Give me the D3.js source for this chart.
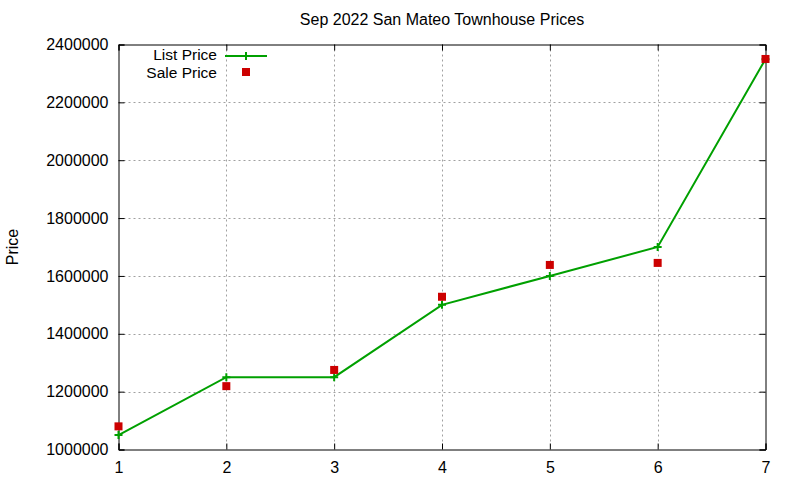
<!DOCTYPE html>
<html><head><meta charset="utf-8">
<script src="https://cdn.jsdelivr.net/npm/d3@7"></script>
<style>
body{margin:0;background:#fff;}
text{font-family:"Liberation Sans",Arial,sans-serif;}
</style></head>
<body><svg id="c" width="800" height="480"></svg>
<script>
const xValues = [1, 2, 3, 4, 5, 6, 7];
const listPrice = [1050000, 1250000, 1250000, 1500000, 1600000, 1700000, 2349000];
const salePrice = [1080000, 1219000, 1275000, 1528000, 1638000, 1645000, 2350000];
const yTicks = [1000000, 1200000, 1400000, 1600000, 1800000, 2000000, 2200000, 2400000];
const xTicks = [1, 2, 3, 4, 5, 6, 7];
const chartTitle = "Sep 2022 San Mateo Townhouse Prices";
const yLabel = "Price";
const seriesNames = ["List Price", "Sale Price"];

const svg = d3.select("#c");
const L = 118.5, R = 765.5, T = 44.5, B = 449.5;
const x = d3.scaleLinear().domain([1, 7]).range([L, R]);
const y = d3.scaleLinear().domain([1000000, 2400000]).range([B, T]);
const green = "#00a000", red = "#cc0000", grid = "#a0a0a0";
const fs = 16;

// grid
const g = svg.append("g");
g.selectAll(".gy").data(yTicks.slice(1, -1)).join("line")
  .attr("x1", L).attr("x2", R).attr("y1", d => Math.round(y(d)) + 0.5).attr("y2", d => Math.round(y(d)) + 0.5)
  .attr("stroke", grid).attr("stroke-dasharray", "2,3");
g.selectAll(".gx").data(xTicks.slice(1, -1)).join("line")
  .attr("y1", T).attr("y2", B).attr("x1", d => Math.round(x(d)) + 0.5).attr("x2", d => Math.round(x(d)) + 0.5)
  .attr("stroke", grid).attr("stroke-dasharray", "2,3");

// axes (gnuplot style: inward ticks, mirrored)
const ax = svg.append("g");
const axLeft = d3.axisLeft(y).tickValues(yTicks).tickSize(-6).tickPadding(10).tickFormat(d3.format("d"));
const axBottom = d3.axisBottom(x).tickValues(xTicks).tickSize(-6).tickPadding(12).tickFormat(d3.format("d"));
const axRight = d3.axisRight(y).tickValues(yTicks).tickSize(-6).tickFormat("");
const axTop = d3.axisTop(x).tickValues(xTicks).tickSize(-6).tickFormat("");
[[axLeft, `translate(${L},0)`], [axBottom, `translate(0,${B})`], [axRight, `translate(${R},0)`], [axTop, `translate(0,${T})`]]
  .forEach(([a, t]) => {
    const gg = ax.append("g").attr("transform", t).call(a);
    gg.select(".domain").attr("stroke", "#000");
    gg.selectAll(".tick line").attr("stroke", "#000");
    gg.selectAll("text").attr("font-size", fs).attr("fill", "#000")
      .attr("font-family", '"Liberation Sans",Arial,sans-serif');
  });

// list price line
const line = d3.line().x((d, i) => x(xValues[i])).y(d => y(d));
svg.append("path").datum(listPrice).attr("d", line)
  .attr("fill", "none").attr("stroke", green).attr("stroke-width", 2);
const plus = (sel, cx, cy) => {
  sel.append("path").attr("d", `M${cx - 4},${cy}H${cx + 4}M${cx},${cy - 4}V${cy + 4}`)
    .attr("stroke", green).attr("stroke-width", 2).attr("fill", "none");
};
listPrice.forEach((v, i) => plus(svg, x(xValues[i]), y(v)));

// sale points
svg.selectAll(".sale").data(salePrice).join("rect")
  .attr("x", (d, i) => x(xValues[i]) - 4).attr("y", d => y(d) - 4)
  .attr("width", 8).attr("height", 8).attr("fill", red);

// title
svg.append("text").attr("x", (L + R) / 2).attr("y", 25).attr("text-anchor", "middle")
  .attr("font-size", fs).text(chartTitle);
// y label
svg.append("text").attr("transform", "translate(18,247) rotate(-90)").attr("text-anchor", "middle")
  .attr("font-size", fs).text(yLabel);

// legend
const lfs = 15.5;
svg.append("text").attr("x", 217).attr("y", 60).attr("text-anchor", "end").attr("font-size", lfs).text(seriesNames[0]);
svg.append("line").attr("x1", 225).attr("x2", 267).attr("y1", 56).attr("y2", 56).attr("stroke", green).attr("stroke-width", 2);
plus(svg, 246, 56);
svg.append("text").attr("x", 217).attr("y", 77.5).attr("text-anchor", "end").attr("font-size", lfs).text(seriesNames[1]);
svg.append("rect").attr("x", 242).attr("y", 68).attr("width", 8).attr("height", 8).attr("fill", red);
</script></body></html>
